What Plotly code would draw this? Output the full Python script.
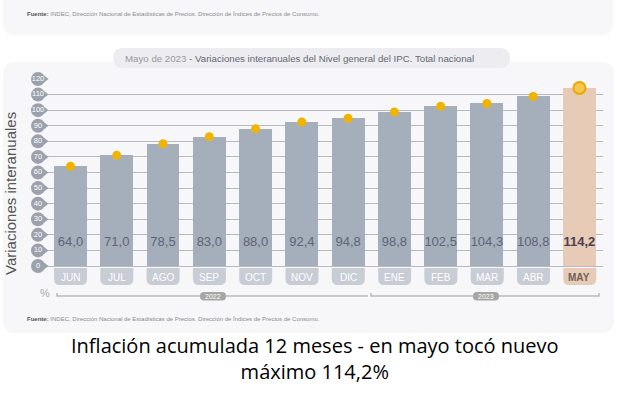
import plotly.graph_objects as go

months = ["JUN", "JUL", "AGO", "SEP", "OCT", "NOV", "DIC", "ENE", "FEB", "MAR", "ABR", "MAY"]
values = [64.0, 71.0, 78.5, 83.0, 88.0, 92.4, 94.8, 98.8, 102.5, 104.3, 108.8, 114.2]
value_labels = ["64,0", "71,0", "78,5", "83,0", "88,0", "92,4", "94,8", "98,8", "102,5", "104,3", "108,8", "114,2"]
y_ticks = [0, 10, 20, 30, 40, 50, 60, 70, 80, 90, 100, 110, 120]
years = ["2022", "2023"]

W, H = 631, 394
BAR_C = "#a5afbc"
HI_C = "#e7cbb7"
DOT_C = "#f0b400"
STEP = 46.3          # px per category
X0PX = 70.5          # px centre of first category
DOM_L = 32.0         # px left edge of x domain

def px(x):
    return x / W

def py(y):
    return 1 - y / H

def rrect(x0, y0, x1, y1, r, tl=True, tr=True, br=True, bl=True):
    def P(x, y):
        return f"{px(x):.5f},{py(y):.5f}"
    s = "M" + P(x0 + (r if tl else 0), y0)
    s += " L" + P(x1 - (r if tr else 0), y0)
    if tr:
        s += " Q" + P(x1, y0) + " " + P(x1, y0 + r)
    s += " L" + P(x1, y1 - (r if br else 0))
    if br:
        s += " Q" + P(x1, y1) + " " + P(x1 - r, y1)
    s += " L" + P(x0 + (r if bl else 0), y1)
    if bl:
        s += " Q" + P(x0, y1) + " " + P(x0, y1 - r)
    s += " L" + P(x0, y0 + (r if tl else 0))
    if tl:
        s += " Q" + P(x0, y0) + " " + P(x0 + r, y0)
    return s + " Z"

n = len(months)
colors = [BAR_C] * (n - 1) + [HI_C]
x_lo = -0.5 - (X0PX - STEP / 2 - DOM_L) / STEP
tag_x = -0.5 - (X0PX - STEP / 2 - 38) / STEP
ptr_x = tag_x + 7.5 / STEP

fig = go.Figure()

fig.add_trace(go.Bar(x=list(range(n)), y=values, marker_color=colors, width=0.71,
                     marker_line_width=0, hoverinfo="skip"))

fig.add_trace(go.Scatter(x=list(range(n - 1)), y=values[:-1], mode="markers",
                         marker=dict(color=DOT_C, size=9), cliponaxis=False, hoverinfo="skip"))
fig.add_trace(go.Scatter(x=[n - 1], y=[values[-1]], mode="markers",
                         marker=dict(color="#f7c650", size=12, line=dict(color="#eaa900", width=2)),
                         cliponaxis=False, hoverinfo="skip"))

fig.add_trace(go.Scatter(x=list(range(n)), y=[15] * n, mode="text",
                         text=value_labels[:-1] + ["<b>" + value_labels[-1] + "</b>"],
                         textfont=dict(family="Liberation Sans", size=13,
                                       color=["#5d6477"] * (n - 1) + ["#4a4050"]),
                         cliponaxis=False, hoverinfo="skip"))

# y tick tags (pointer + circle)
fig.add_trace(go.Scatter(x=[ptr_x] * len(y_ticks), y=y_ticks, mode="markers",
                         marker=dict(color="#9ba1ad", size=6, symbol="triangle-right"),
                         cliponaxis=False, hoverinfo="skip"))
fig.add_trace(go.Scatter(x=[tag_x] * len(y_ticks), y=y_ticks, mode="markers+text",
                         text=[str(t) for t in y_ticks], textposition="middle center",
                         marker=dict(color="#9ba1ad", size=14, symbol="circle"),
                         textfont=dict(family="Liberation Sans", size=7.5, color="white"),
                         cliponaxis=False, hoverinfo="skip"))

shapes = []
annotations = []

shapes.append(dict(type="path", xref="paper", yref="paper", layer="below",
                   path=rrect(3, -20, 613, 35, 12), fillcolor="#f7f7fa", line_width=0))
shapes.append(dict(type="path", xref="paper", yref="paper", layer="below",
                   path=rrect(3, 62, 614, 333, 13), fillcolor="#f7f7fa", line_width=0))
shapes.append(dict(type="path", xref="paper", yref="paper", layer="below",
                   path=rrect(113, 48, 510, 68, 10), fillcolor="#ececf1", line_width=0))

for i, m in enumerate(months):
    cx = X0PX + STEP * i
    last = i == n - 1
    shapes.append(dict(type="path", xref="paper", yref="paper",
                       path=rrect(cx - 16.5, 268, cx + 16.5, 285, 6, tl=False, tr=False),
                       fillcolor=HI_C if last else "#c8ccd5", line_width=0))
    annotations.append(dict(x=i, xref="x", y=py(277), yref="paper", showarrow=False,
                            yanchor="middle",
                            text=("<b>" + m + "</b>") if last else m,
                            font=dict(family="Liberation Sans", size=10,
                                      color="#6f5f58" if last else "white")))

line_c = "#9c9c9c"
brackets = [(57, 368, 213, [57]), (371, 599, 486, [371, 599])]
for yr, (x0, x1, cx, ticks) in zip(years, brackets):
    shapes.append(dict(type="line", xref="paper", yref="paper", x0=px(x0), x1=px(x1),
                       y0=py(296), y1=py(296), layer="below", line=dict(color=line_c, width=1)))
    for xx in ticks:
        shapes.append(dict(type="line", xref="paper", yref="paper", x0=px(xx), x1=px(xx),
                           y0=py(293), y1=py(296.5), layer="below", line=dict(color=line_c, width=1)))
    shapes.append(dict(type="path", xref="paper", yref="paper", layer="below",
                       path=rrect(cx - 13, 292, cx + 13, 300.5, 4), fillcolor="#a6a6a6", line_width=0))
    annotations.append(dict(x=px(cx), xref="paper", y=py(296.3), yref="paper", showarrow=False,
                            xanchor="center", yanchor="middle", text=yr,
                            font=dict(family="Liberation Sans", size=7, color="white")))

fuente = ("<b style='color:#555'>Fuente:</b> INDEC, Dirección Nacional de Estadísticas de Precios. "
          "Dirección de Índices de Precios de Consumo.")
annotations += [
    dict(x=px(123), y=py(58), xref="paper", yref="paper", xanchor="left", yanchor="middle",
         showarrow=False,
         text="<span style='color:#9a9a9a'>Mayo de 2023</span> - Variaciones interanuales del Nivel general del IPC. Total nacional",
         font=dict(family="Liberation Sans", size=9.7, color="#666a72")),
    dict(x=px(10), y=py(194), xref="paper", yref="paper", showarrow=False, textangle=-90,
         xanchor="center", yanchor="middle",
         text="Variaciones interanuales", font=dict(family="Liberation Sans", size=15, color="#555")),
    dict(x=px(38), y=py(293), xref="paper", yref="paper", showarrow=False, yanchor="middle",
         text="%", font=dict(family="Liberation Sans", size=11, color="#aaaaaa")),
    dict(x=px(25), y=py(14), xref="paper", yref="paper", xanchor="left", yanchor="middle",
         showarrow=False, text=fuente, font=dict(family="Liberation Sans", size=6, color="#8a8a8a")),
    dict(x=px(25), y=py(319), xref="paper", yref="paper", xanchor="left", yanchor="middle",
         showarrow=False, text=fuente, font=dict(family="Liberation Sans", size=6, color="#8a8a8a")),
    dict(x=px(315), y=py(358.5), xref="paper", yref="paper", showarrow=False,
         xanchor="center", yanchor="middle",
         text="Inflación acumulada 12 meses - en mayo tocó nuevo<br>máximo 114,2%",
         font=dict(family="Open Sans", size=20, color="black")),
]

fig.update_layout(
    width=W, height=H, margin=dict(l=0, r=0, t=0, b=0),
    paper_bgcolor="white", plot_bgcolor="rgba(0,0,0,0)",
    showlegend=False, bargap=0, hovermode=False,
    xaxis=dict(domain=[DOM_L / W, 602.6 / W], range=[x_lo, 11.5], showgrid=False,
               zeroline=False, showticklabels=False, fixedrange=True),
    yaxis=dict(domain=[py(266), py(79)], range=[0, 120], dtick=10, showgrid=True,
               gridcolor="#b7bac1", gridwidth=1, zeroline=True, zerolinecolor="#b7bac1",
               zerolinewidth=1, showticklabels=False, fixedrange=True),
    shapes=shapes, annotations=annotations,
)

fig.write_html("out.html", config={"displayModeBar": False},
               post_script="document.body.style.margin='0';document.body.style.padding='0';")
